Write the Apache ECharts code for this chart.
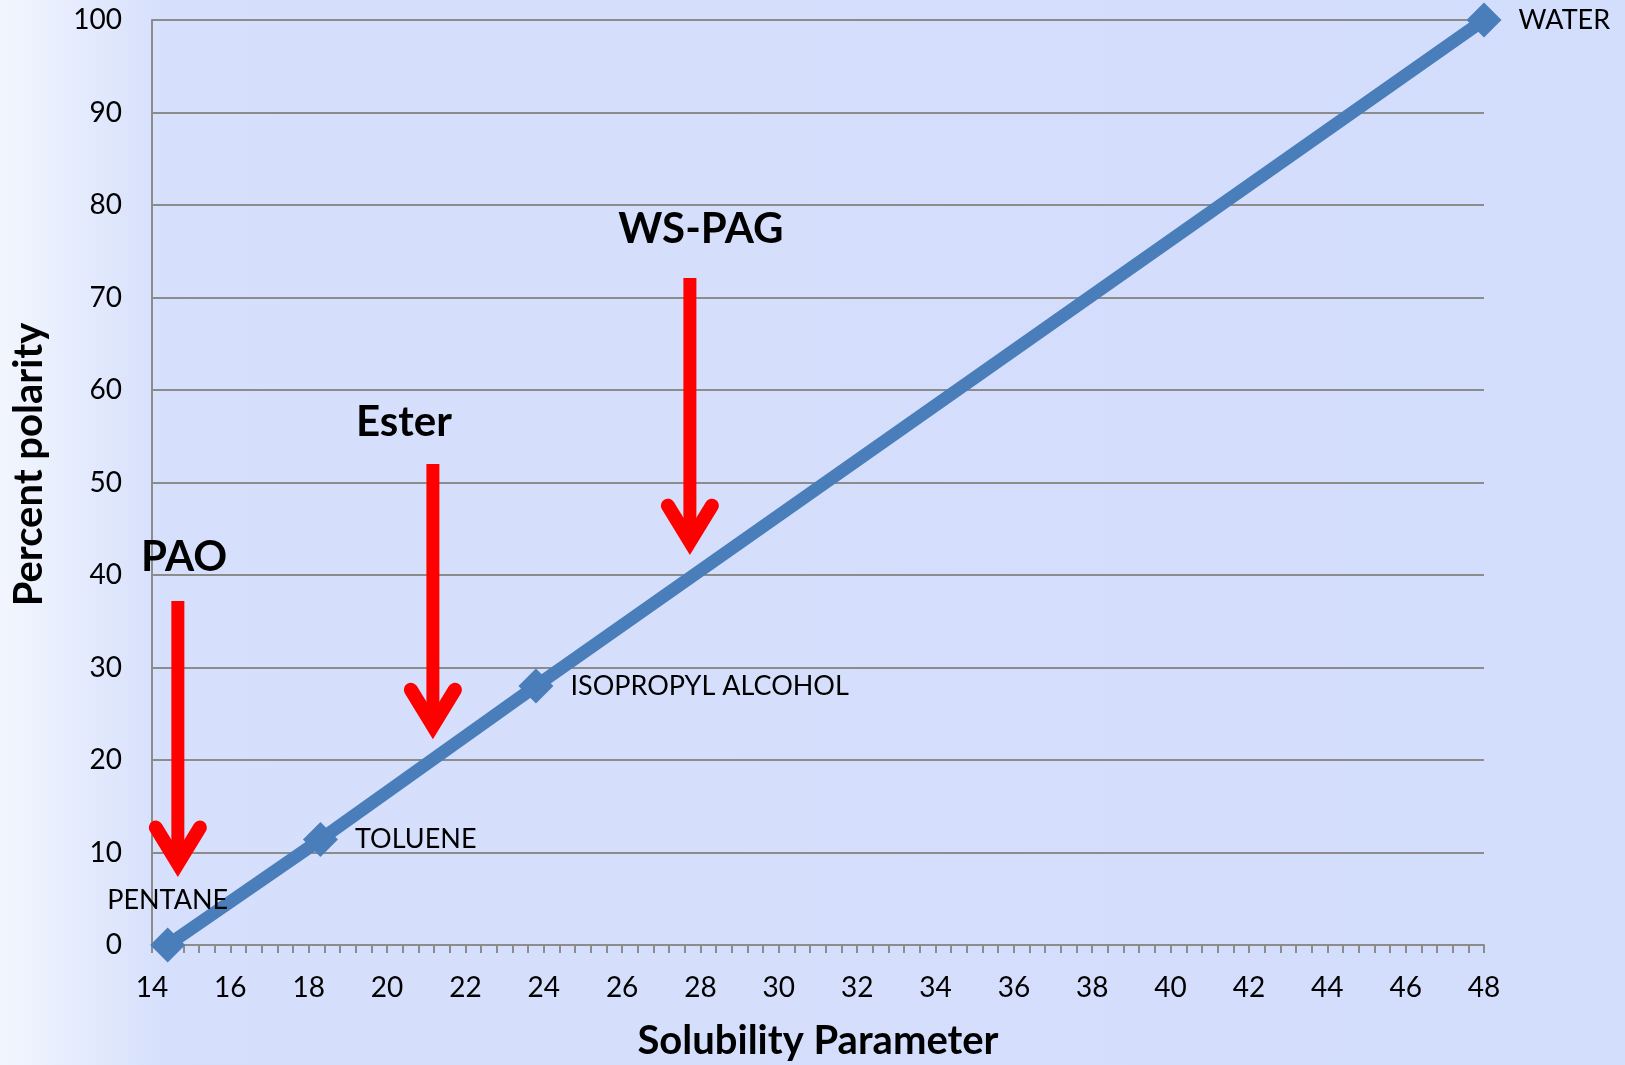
<!DOCTYPE html>
<html>
<head>
<meta charset="utf-8">
<script src="https://cdn.jsdelivr.net/npm/echarts@6/dist/echarts.min.js"></script>
<style>
  html, body { margin: 0; padding: 0; }
  #chart { width: 1625px; height: 1065px; }
</style>
</head>
<body>
<div id="chart"></div>
<script>
// solvents on the polarity line
const solventNames = ['PENTANE', 'TOLUENE', 'ISOPROPYL ALCOHOL', 'WATER'];
const solubility = [14.4, 18.3, 23.8, 48];
const polarity = [0, 11.4, 28, 100];

// lubricant arrows: x, top of shaft, tip
const lubeNames = ['PAO', 'Ester', 'WS-PAG'];
const lubeX = [14.66, 21.17, 27.73];
const lubeTop = [37.2, 52.0, 72.1];
const lubeTip = [7.4, 22.3, 42.2];
const lubeLabelX = [14.82, 20.43, 28.01];
const lubeLabelY = [41.9, 56.5, 77.4];

const labelPos = ['top', 'right', 'right', 'right'];

const gray = '#8c8c8c';
const font = 'Lato, "Noto Sans", sans-serif';

const lineData = solventNames.map((n, i) => ({
  name: n,
  value: [solubility[i], polarity[i]],
  label: { position: labelPos[i], distance: i === 0 ? 14 : 17 }
}));

const arrowData = lubeNames.map((n, i) => ({
  name: n,
  value: [lubeX[i], lubeTop[i], lubeTip[i], lubeLabelX[i], lubeLabelY[i]]
}));

function renderArrow(params, api) {
  const top = api.coord([api.value(0), api.value(1)]);
  const tip = api.coord([api.value(0), api.value(2)]);
  const lbl = api.coord([api.value(3), api.value(4)]);
  const red = '#ff0000';
  return {
    type: 'group',
    children: [
      {
        type: 'line',
        shape: { x1: top[0], y1: top[1], x2: tip[0], y2: tip[1] - 14 },
        style: { stroke: red, lineWidth: 13 }
      },
      {
        type: 'polyline',
        shape: { points: [[tip[0] - 22, tip[1] - 49], [tip[0], tip[1] - 13], [tip[0] + 22, tip[1] - 49]] },
        style: { stroke: red, fill: null, lineWidth: 14, lineCap: 'round', lineJoin: 'miter' }
      },
      {
        type: 'text',
        x: lbl[0], y: lbl[1],
        style: {
          text: lubeNames[params.dataIndex],
          align: 'center', verticalAlign: 'middle',
          fill: '#000', font: 'bold 42px ' + font
        }
      }
    ]
  };
}

const chart = echarts.init(document.getElementById('chart'));
chart.setOption({
  animation: false,
  backgroundColor: {
    type: 'linear', x: 0, y: 0, x2: 1, y2: 0,
    colorStops: [
      { offset: 0, color: '#f3f6fe' },
      { offset: 0.1, color: '#d6e0fc' },
      { offset: 1, color: '#d3ddfc' }
    ]
  },
  textStyle: { fontFamily: font },
  grid: { left: 152, right: 141, top: 20, bottom: 120, outerBoundsMode: 'none' },
  xAxis: {
    type: 'value', min: 14, max: 48, interval: 2,
    name: 'Solubility Parameter', nameLocation: 'middle', nameGap: 76,
    nameTextStyle: { fontSize: 40, fontWeight: 'bold', color: '#000', fontFamily: font },
    axisLine: { lineStyle: { color: gray, width: 2 } },
    axisTick: { length: 8, lineStyle: { color: gray, width: 2 } },
    minorTick: { show: true, splitNumber: 5, length: 8, lineStyle: { color: gray, width: 2 } },
    splitLine: { show: false },
    axisLabel: { fontSize: 28, color: '#000', margin: 29, fontFamily: font }
  },
  yAxis: {
    type: 'value', min: 0, max: 100, interval: 10,
    name: 'Percent polarity', nameLocation: 'middle', nameGap: 103,
    nameTextStyle: {
      fontSize: 40, fontWeight: 'bold', color: '#000', fontFamily: font,
      padding: [0, 0, 0, 36]
    },
    axisLine: { show: true, lineStyle: { color: gray, width: 2 } },
    axisTick: { show: false },
    splitLine: { lineStyle: { color: gray, width: 2 } },
    axisLabel: { fontSize: 28, color: '#000', margin: 30, fontFamily: font }
  },
  series: [
    {
      type: 'line',
      data: lineData,
      symbol: 'diamond',
      symbolSize: 35,
      lineStyle: { color: '#4a7ebb', width: 13 },
      itemStyle: { color: '#4a7ebb' },
      label: {
        show: true, formatter: '{b}',
        fontSize: 27, color: '#000', fontFamily: font
      },
      z: 3
    },
    {
      type: 'custom',
      data: arrowData,
      renderItem: renderArrow,
      clip: false,
      z: 4
    }
  ]
});
</script>
</body>
</html>
